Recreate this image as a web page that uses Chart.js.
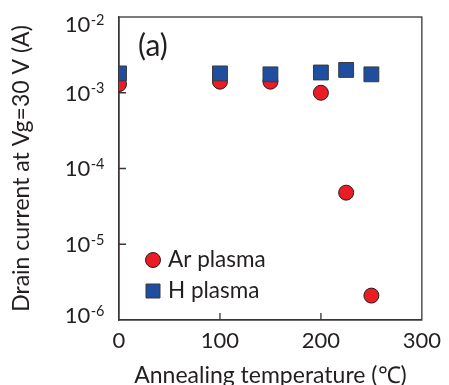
<!DOCTYPE html>
<html><head><meta charset="utf-8">
<script src="https://cdn.jsdelivr.net/npm/chart.js@4/dist/chart.umd.min.js"></script>
<style>html,body{margin:0;padding:0;background:#fff}#wrap{width:449px;height:385px}</style>
</head><body><div id="wrap"><canvas id="c" width="449" height="385"></canvas></div>
<script>
// ---- data ----
const temperaturesAr = [0, 100, 150, 200, 225, 250];
const currentAr = [1.3e-3, 1.4e-3, 1.4e-3, 1.0e-3, 4.8e-5, 2.1e-6];
const temperaturesH = [0, 100, 150, 200, 225, 250];
const currentH = [1.8e-3, 1.8e-3, 1.75e-3, 1.85e-3, 2.0e-3, 1.75e-3];
const xTicks = [0, 100, 200, 300];
const yExponents = [-6, -5, -4, -3, -2];
const seriesLabels = ['Ar plasma', 'H plasma'];
const panelLabel = '(a)';
const xTitle = 'Annealing temperature (\u2103)';
const yTitle = 'Drain current at Vg=30 V (A)';

const FONT = 'Lato, "Liberation Sans", sans-serif';
const TXT = '#231f20';
const AXIS = '#3b3535';
const RED = '#ec1c24';
const BLUE = '#1f4e9e';

const toPts = (xs, ys) => xs.map((x, i) => ({x: x, y: ys[i]}));

const customPlugin = {
  id: 'custom',
  beforeDatasetsDraw(chart) {
    const {ctx, chartArea: a, scales} = chart;
    ctx.save();
    ctx.strokeStyle = AXIS;
    ctx.lineWidth = 1.3;
    ctx.strokeRect(a.left, a.top, a.right - a.left, a.bottom - a.top);
    // inward tick marks
    ctx.beginPath();
    scales.x.ticks.forEach(t => {
      if (t.value <= scales.x.min || t.value >= scales.x.max) return;
      const px = scales.x.getPixelForValue(t.value);
      ctx.moveTo(px, a.bottom); ctx.lineTo(px, a.bottom - 7);
    });
    scales.y.ticks.forEach(t => {
      if (t.value <= scales.y.min || t.value >= scales.y.max) return;
      const py = scales.y.getPixelForValue(t.value);
      ctx.moveTo(a.left, py); ctx.lineTo(a.left + 7, py);
    });
    ctx.stroke();
    ctx.restore();
  },
  afterDraw(chart) {
    const {ctx, chartArea: a, scales} = chart;
    ctx.save();
    ctx.fillStyle = TXT;
    // y tick labels: 10 with superscript exponent
    yExponents.forEach(e => {
      let yc = scales.y.getPixelForValue(Math.pow(10, e));
      yc = Math.min(Math.max(yc, a.top + 7.5), a.bottom - 5);
      const base = '10', sup = '-' + Math.abs(e);
      ctx.font = '22px ' + FONT;
      const w1 = ctx.measureText(base).width;
      ctx.font = '14.5px ' + FONT;
      const w2 = ctx.measureText(sup).width;
      const x0 = a.left - 15 - w1 - w2;
      ctx.textAlign = 'left';
      ctx.textBaseline = 'alphabetic';
      ctx.font = '22px ' + FONT;
      ctx.fillText(base, x0, yc + 7.8);
      ctx.font = '14.5px ' + FONT;
      ctx.fillText(sup, x0 + w1 + 0.5, yc + 0.5);
    });
    // panel label
    ctx.font = '30px ' + FONT;
    ctx.textAlign = 'left';
    ctx.textBaseline = 'middle';
    ctx.fillText(panelLabel, a.left + 19, a.top + 29);
    // legend
    const ds = chart.data.datasets;
    const lx = a.left + 34;
    const rows = [a.bottom - 60, a.bottom - 29];
    ds.forEach((d, i) => {
      const y = rows[i];
      ctx.fillStyle = d.backgroundColor;
      ctx.strokeStyle = d.borderColor;
      ctx.lineWidth = 1;
      ctx.beginPath();
      if (d.pointStyle === 'circle') {
        ctx.arc(lx, y, 7.5, 0, Math.PI * 2);
      } else {
        ctx.rect(lx - 7, y - 7, 14, 14);
      }
      ctx.fill(); ctx.stroke();
      ctx.fillStyle = TXT;
      ctx.font = '22.5px ' + FONT;
      ctx.textBaseline = 'middle';
      ctx.fillText(d.label, lx + 15, y);
    });
    ctx.restore();
  }
};

new Chart(document.getElementById('c'), {
  type: 'scatter',
  data: {
    datasets: [
      {label: seriesLabels[0], data: toPts(temperaturesAr, currentAr), pointStyle: 'circle',
       pointRadius: 7.5, pointHoverRadius: 7.5, backgroundColor: RED, borderColor: '#231f20', borderWidth: 1, order: 2},
      {label: seriesLabels[1], data: toPts(temperaturesH, currentH), pointStyle: 'rect',
       pointRadius: 10.5, pointHoverRadius: 10.5, backgroundColor: BLUE, borderColor: '#3a3a3a', borderWidth: 1, order: 1}
    ]
  },
  options: {
    responsive: false,
    animation: false,
    devicePixelRatio: 1,
    layout: {padding: {top: 17, right: 22, left: 0, bottom: 0}},
    plugins: {legend: {display: false}, tooltip: {enabled: false}},
    scales: {
      x: {
        type: 'linear', min: 0, max: 300,
        afterBuildTicks: s => { s.ticks = xTicks.map(v => ({value: v})); },
        afterFit: s => { s.height = 65; },
        grid: {display: false, drawTicks: false},
        border: {display: true, color: AXIS, width: 1.3},
        ticks: {color: TXT, font: {family: FONT, size: 22}, padding: 8, maxRotation: 0},
        title: {display: true, text: xTitle, color: TXT, font: {family: FONT, size: 23, lineHeight: 0.85}, padding: {top: 0, bottom: 0}}
      },
      y: {
        type: 'logarithmic', min: 1e-6, max: 1e-2,
        afterBuildTicks: s => { s.ticks = yExponents.map(e => ({value: Math.pow(10, e)})); },
        afterFit: s => { s.width = 119; },
        grid: {display: false, drawTicks: false},
        border: {display: true, color: AXIS, width: 1.3},
        ticks: {display: false},
        title: {display: true, text: yTitle, color: TXT, font: {family: FONT, size: 23}, padding: {top: 8, bottom: 0}}
      }
    }
  },
  plugins: [customPlugin]
});
</script>
</body></html>
